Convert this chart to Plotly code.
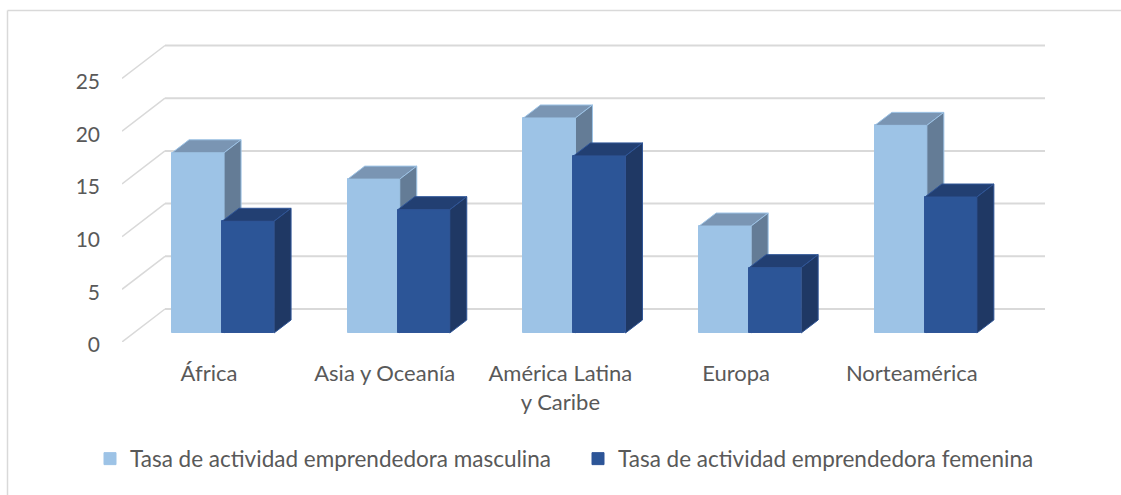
import plotly.graph_objects as go

categories = ["África", "Asia y Oceanía", "América Latina<br>y Caribe", "Europa", "Norteamérica"]
masculina = [17.1, 14.6, 20.4, 10.15, 19.7]
femenina = [10.6, 11.7, 16.8, 6.2, 12.9]
y_ticks = [0, 5, 10, 15, 20, 25]
name_m = "Tasa de actividad emprendedora masculina"
name_f = "Tasa de actividad emprendedora femenina"

W, H = 1121, 495
L, R, T, B = 122, 1045, 44, 342
PX_X, PX_Y = 175.7, 10.54
x_max = (R - L) / PX_X
y_max = (B - T) / PX_Y
FLOOR = 9 / PX_Y
BAR_W = 52 / PX_X
START_M = 0.285
START_F = 0.285 + 50 / PX_X
DX, DY = 17 / PX_X, 13 / PX_Y
WALL_X, WALL_Y = 43 / PX_X, 33 / PX_Y
FONT = "Lato"
TXT = "#595959"
GRID = "#D9D9D9"
SIZE = 22


def faces(values, start):
    top_x, top_y, side_x, side_y = [], [], [], []
    for i, v in enumerate(values):
        x0 = i + start
        x1 = x0 + BAR_W
        y0 = FLOOR
        y1 = FLOOR + v
        top_x += [x0, x1, x1 + DX, x0 + DX, x0, None]
        top_y += [y1, y1, y1 + DY, y1 + DY, y1, None]
        side_x += [x1, x1, x1 + DX, x1 + DX, x1, None]
        side_y += [y0, y1, y1 + DY, y0 + DY, y0, None]
    return top_x, top_y, side_x, side_y


fig = go.Figure()


def add_series(values, start, name, front, top, side, edge, xa, ya):
    fig.add_trace(go.Bar(
        x=[i + start + BAR_W / 2 for i in range(len(values))], y=values, base=FLOOR, width=BAR_W,
        name=name, marker=dict(color=front, line=dict(color=edge, width=1)), xaxis=xa, yaxis=ya,
    ))
    tx, ty, sx, sy = faces(values, start)
    for px, py, c in ((tx, ty, top), (sx, sy, side)):
        fig.add_trace(go.Scatter(
            x=px, y=py, fill="toself", fillcolor=c, mode="lines", line=dict(color=edge, width=1),
            showlegend=False, hoverinfo="skip", xaxis=xa, yaxis=ya,
        ))


add_series(masculina, START_M, name_m, "#9DC3E6", "#7A95B3", "#647C96", "#9DC3E6", "x", "y")
add_series(femenina, START_F, name_f, "#2C5597", "#223F72", "#1F3864", "#2F5597", "x2", "y2")

shapes = []
for t in y_ticks:
    shapes.append(dict(type="line", xref="x", yref="y", x0=WALL_X, x1=x_max, y0=t + WALL_Y, y1=t + WALL_Y,
                       line=dict(color=GRID, width=2), layer="below"))
    shapes.append(dict(type="line", xref="x", yref="y", x0=0, x1=WALL_X, y0=t, y1=t + WALL_Y,
                       line=dict(color=GRID, width=1.5), layer="below"))
# chart-area frame: top and left edges only
shapes.append(dict(type="line", xref="paper", yref="paper", x0=(7.5 - L) / (R - L), x1=(W - L) / (R - L),
                   y0=(B - 10.5) / (B - T), y1=(B - 10.5) / (B - T), line=dict(color=GRID, width=1.5), layer="below"))
shapes.append(dict(type="line", xref="paper", yref="paper", x0=(7.5 - L) / (R - L), x1=(7.5 - L) / (R - L),
                   y0=(B - 10.5) / (B - T), y1=(B - H) / (B - T), line=dict(color=GRID, width=1.5), layer="below"))

fig.update_layout(
    width=W, height=H, autosize=False,
    margin=dict(l=L, r=W - R, t=T, b=H - B, pad=0),
    paper_bgcolor="white", plot_bgcolor="rgba(0,0,0,0)",
    font=dict(family=FONT, size=SIZE, color=TXT),
    barmode="overlay", bargap=0,
    shapes=shapes,
    showlegend=True,
    legend=dict(
        orientation="h", x=(90 - L) / (R - L), xanchor="left", y=(B - 459) / (B - T), yanchor="middle",
        entrywidth=443, entrywidthmode="pixels", font=dict(family=FONT, size=22.5, color=TXT),
        bgcolor="rgba(0,0,0,0)", traceorder="normal",
    ),
    xaxis=dict(
        range=[0, x_max], tickvals=[i + 0.495 for i in range(len(categories))], ticktext=categories,
        showgrid=False, zeroline=False, showline=False, ticks="", ticklabelstandoff=16,
        tickfont=dict(family=FONT, size=SIZE, color=TXT), fixedrange=True,
    ),
    yaxis=dict(
        range=[0, y_max], tickvals=y_ticks, showgrid=False, zeroline=False, showline=False, ticks="",
        ticklabelstandoff=21, ticklabelshift=3, tickfont=dict(family=FONT, size=21, color=TXT), fixedrange=True,
    ),
    xaxis2=dict(overlaying="x", range=[0, x_max], visible=False, fixedrange=True),
    yaxis2=dict(overlaying="y", range=[0, y_max], visible=False, fixedrange=True),
)

fig.write_html("out.html", config={"displayModeBar": False},
               post_script="document.body.style.margin='0';")
